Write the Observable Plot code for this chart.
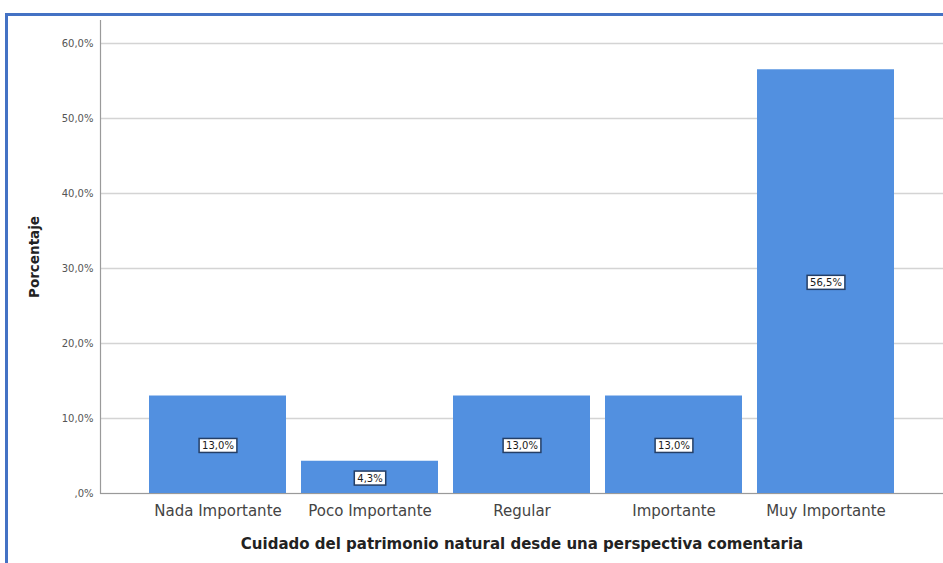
<!DOCTYPE html>
<html>
<head>
<meta charset="utf-8">
<script src="https://cdn.jsdelivr.net/npm/d3@7"></script>
<script src="https://cdn.jsdelivr.net/npm/@observablehq/plot@0.6"></script>
<style>
  html, body { margin: 0; padding: 0; background: #fff; }
  #wrap { position: relative; width: 943px; height: 563px; overflow: hidden; }
  #frame { position: absolute; left: 5px; top: 13px; right: -10px; bottom: -10px;
           border-top: 3px solid #4472c4; border-left: 3px solid #4472c4; pointer-events: none; }
  #chart { position: absolute; left: 0; top: 0; }
</style>
</head>
<body>
<div id="wrap">
  <div id="chart"></div>
  <div id="frame"></div>
</div>
<script>
const categories = ["Nada Importante", "Poco Importante", "Regular", "Importante", "Muy Importante"];
const percentages = [13.0, 4.3, 13.0, 13.0, 56.5];
const yTicks = [0, 10, 20, 30, 40, 50, 60];
const xTitle = "Cuidado del patrimonio natural desde una perspectiva comentaria";
const yTitle = "Porcentaje";

const data = categories.map((c, i) => ({category: c, value: percentages[i]}));
const fmtTick = d => d === 0 ? ",0%" : d.toFixed(1).replace(".", ",") + "%";
const fmtLabel = d => d.toFixed(1).replace(".", ",") + "%";
const yMax = 63.07;

const chart = Plot.plot({
  width: 943,
  height: 563,
  marginTop: 20,
  marginBottom: 70,
  marginLeft: 100,
  marginRight: 0,
  style: {fontFamily: "'DejaVu Sans', Verdana, sans-serif", background: "transparent"},
  x: {domain: categories, paddingInner: 0.1, paddingOuter: 0.32, label: null},
  y: {domain: [0, yMax], label: null},
  marks: [
    Plot.gridY(yTicks, {stroke: "#d4d4d4", strokeOpacity: 1, strokeWidth: 1.5}),
    Plot.barY(data, {x: "category", y: "value", fill: "#5290e0"}),
    Plot.ruleY([0], {stroke: "#9a9a9a", strokeWidth: 1.2}),
    Plot.frame({anchor: "left", stroke: "#9a9a9a", strokeWidth: 1.2}),
    Plot.axisY(yTicks, {tickFormat: fmtTick, tickSize: 0, tickPadding: 7, fontSize: 10, fill: "#555", label: null}),
    Plot.axisX({tickSize: 0, tickPadding: 12, fontSize: 15, fill: "#444", label: null}),
    Plot.text(data, {x: "category", y: d => d.value / 2, dy: 1, text: d => fmtLabel(d.value), fontSize: 10, fill: "#1a1a1a", className: "vlabel"}),
    Plot.text([xTitle], {frameAnchor: "bottom", dy: 55, fontSize: 15, fontWeight: "bold", fill: "#222"}),
    Plot.text([yTitle], {frameAnchor: "left", textAnchor: "middle", dx: -66, rotate: -90, fontSize: 13.5, fontWeight: "bold", fill: "#222"})
  ]
});
document.getElementById("chart").appendChild(chart);

// add white boxes with dark border behind value labels
const labelSet = new Set(percentages.map(fmtLabel));
const texts = Array.from(chart.querySelectorAll("text")).filter(t => labelSet.has(t.textContent));
texts.forEach(t => {
  const b = t.getBBox();
  const r = document.createElementNS("http://www.w3.org/2000/svg", "rect");
  r.setAttribute("x", b.x - 3);
  r.setAttribute("y", b.y - 1.5);
  r.setAttribute("width", b.width + 6);
  r.setAttribute("height", b.height + 3);
  r.setAttribute("fill", "#fff");
  r.setAttribute("stroke", "#253f66");
  r.setAttribute("stroke-width", "1.5");
  const tr = t.getAttribute("transform");
  if (tr) r.setAttribute("transform", tr);
  t.parentNode.insertBefore(r, t);
});
</script>
</body>
</html>
